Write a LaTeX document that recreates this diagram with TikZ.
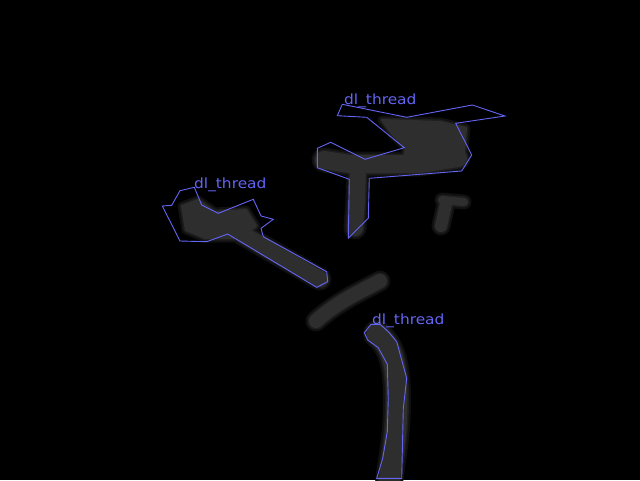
\documentclass[tikz,border=0pt]{standalone}
\usepackage{fontspec}
\setmainfont{DejaVu Sans}
\definecolor{outline}{RGB}{100,100,245}
\definecolor{smoke}{RGB}{46,46,46}
\definecolor{dim}{RGB}{30,30,30}
\definecolor{haze}{RGB}{16,16,16}

\begin{document}
\begin{tikzpicture}[x=1pt, y=-1pt, line join=round, line cap=round]
      \tikzstyle{tag} = [font=\addfontfeatures{FakeStretch=1.1}\fontsize{14}{14}\selectfont, color=outline, anchor=base west, inner sep=0pt]
      \tikzstyle{mask} = [draw=outline, line width=0.9pt, line cap=butt, line join=miter]
      \fill[black] (0,0) rectangle (640,480);
      \useasboundingbox (0,0) rectangle (640,480);
      % grey threads, drawn three times for a soft edge
      \foreach \e/\c in {7/haze,3/dim,0/smoke}{
        \draw[\c, line width=18+\e] (324,160) -- (350,164) -- (420,164) -- (458,158);
        \filldraw[\c, line width=2+\e] (382,120) -- (440,122) -- (466,128) -- (463,163) -- (402,168) -- (406,148) -- (392,134) -- cycle;
        \draw[\c, line width=16+\e] (358,168) -- (357,200) -- (355,228);
        \draw[\c, line width=8+\e] (442,200) -- (464,202);
        \draw[\c, line width=12+\e] (446,204) -- (441,226);
        \filldraw[\c, line width=2+\e] (182,206) -- (198,200) -- (215,212) -- (246,210) -- (256,226) -- (240,238) -- (205,238) -- (186,230) -- cycle;
        \draw[\c, line width=16+\e] (242,234) -- (320,279);
        \draw[\c, line width=14+\e] (380,281) .. controls (360,292) and (340,300) .. (316,321);
        \draw[\c, line width=21+\e] (377,334) .. controls (392,346) and (397,365) .. (397,400) .. controls (397,440) and (391,460) .. (389,484);
      }
      % outlines
      \draw[mask] (342.3,104.3) -- (337.3,115.7) -- (366.7,117.3) -- (404.3,147.7) -- (365,159.3) -- (330.7,142.3)
        -- (317.3,148.3) -- (317.3,167.7) -- (349.3,179.3) -- (348.3,238.3) -- (368.3,218.3) -- (369.3,178.3)
        -- (461.7,171) -- (471.7,155) -- (455.7,123.3) -- (505,116) -- (472.3,105) -- (406.7,117.3) -- cycle;
      \draw[mask] (162.3,206) -- (171.7,205.3) -- (180,190.7) -- (194.3,187.3) -- (201.7,205) -- (218.3,213.3)
        -- (253.3,199.3) -- (261,216) -- (273.3,219.3) -- (261,228.3) -- (263.3,236.7) -- (326.7,271.7)
        -- (327.7,281.7) -- (316.7,287.3) -- (227.7,234) -- (206.7,241.7) -- (180,241) -- cycle;
      \draw[mask] (371,324.3) -- (364.3,332.7) -- (367.7,340) -- (378.3,347.7) -- (387.3,364.3) -- (388.3,398.3)
        -- (387.3,431.7) -- (382.7,458.3) -- (376.7,478.3) -- (401.7,478.3) -- (403.3,408.3) -- (406.7,378.3)
        -- (396.7,341.7) -- (388.3,331.7) -- (380,324.3) -- cycle;
      \node (upperTag) [tag] at (344,104) {dl\_thread};
      \node (leftTag) [tag] at (194,188) {dl\_thread};
      \node (lowerTag) [tag] at (372,324) {dl\_thread};
\end{tikzpicture}
\end{document}
